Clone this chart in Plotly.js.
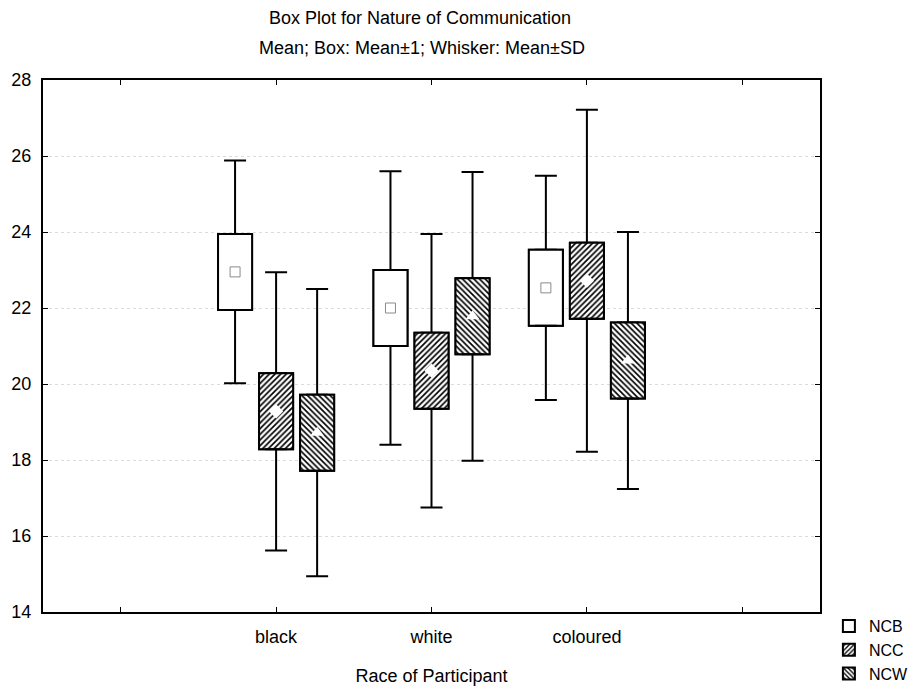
<!DOCTYPE html>
<html>
<head>
<meta charset="utf-8">
<script src="https://cdn.plot.ly/plotly-3.0.1.min.js"></script>
<style>html,body{margin:0;padding:0;background:#fff;}#chart{width:921px;height:686px;}</style>
</head>
<body>
<div id="chart"></div>
<script>
// Data
var categories = ['black', 'white', 'coloured'];
var seriesNames = ['NCB', 'NCC', 'NCW'];
var meanNCB = [22.95, 22.0, 22.53];
var meanNCC = [19.28, 20.35, 22.72];
var meanNCW = [18.72, 21.78, 20.62];
var sdNCB = [2.93, 3.6, 2.95];
var sdNCC = [3.66, 3.6, 4.5];
var sdNCW = [3.78, 3.8, 3.38];
var boxHalf = 1; // Box: Mean ± 1

var means = [meanNCB, meanNCC, meanNCW];
var sds = [sdNCB, sdNCC, sdNCW];

// styling
var offsets = [-0.264, 0, 0.264];
var barWidth = 0.219;
var patterns = [
  {shape: '', fgcolor: '#000', bgcolor: '#fff'},
  {shape: '/', fgcolor: '#000', bgcolor: '#fff', size: 4, solidity: 0.42},
  {shape: '\\', fgcolor: '#000', bgcolor: '#fff', size: 4, solidity: 0.42}
];
var meanMarkers = [
  {symbol: 'square-open', size: 10, color: '#8a8a8a', line: {width: 1, color: '#8a8a8a'}},
  {symbol: 'diamond', size: 11, color: '#ffffff', line: {width: 0, color: '#ffffff'}},
  {symbol: 'triangle-up', size: 12, color: '#ffffff', line: {width: 0, color: '#ffffff'}}
];

var catPos = categories.map(function (c, i) { return i + 1; });
var traces = [];
seriesNames.forEach(function (name, s) {
  var xs = catPos.map(function (p) { return p + offsets[s]; });
  var m = means[s], sd = sds[s];
  var zeros = m.map(function () { return 0; });
  var whisk = sd.map(function (v) { return v - boxHalf; });
  var marker = {color: '#fff', pattern: patterns[s], line: {color: '#000', width: 2}};
  // upper half of box + upper whisker
  traces.push({
    type: 'bar', name: name, legendgroup: name, showlegend: true,
    x: xs, y: m.map(function () { return 2 * boxHalf; }),
    base: m.map(function (v) { return v - boxHalf; }),
    width: barWidth, marker: marker,
    error_y: {type: 'data', symmetric: false, array: whisk, arrayminus: zeros, color: '#000', thickness: 2, width: 11},
    hoverinfo: 'skip'
  });
  // lower whisker (same box, drawn downward)
  traces.push({
    type: 'bar', name: name, legendgroup: name, showlegend: false,
    x: xs, y: m.map(function () { return -2 * boxHalf; }),
    base: m.map(function (v) { return v + boxHalf; }),
    width: barWidth, marker: marker,
    error_y: {type: 'data', symmetric: false, array: zeros, arrayminus: whisk, color: '#000', thickness: 2, width: 11},
    hoverinfo: 'skip'
  });
});
seriesNames.forEach(function (name, s) {
  traces.push({
    type: 'scatter', mode: 'markers', name: name, legendgroup: name, showlegend: false,
    x: catPos.map(function (p) { return p + offsets[s]; }), y: means[s],
    marker: meanMarkers[s], hoverinfo: 'skip'
  });
});

var fontFam = 'Liberation Sans, Arial, sans-serif';
var layout = {
  width: 921, height: 686,
  paper_bgcolor: '#fff', plot_bgcolor: '#fff',
  margin: {l: 43, r: 101, t: 80, b: 74},
  barmode: 'overlay',
  font: {family: fontFam, color: '#000', size: 16},
  title: {text: 'Box Plot for Nature of Communication', font: {size: 18, family: fontFam, color: '#000'},
          xref: 'container', x: 0.456, xanchor: 'center', yref: 'container', y: 1 - 18 / 686, yanchor: 'middle'},
  annotations: [{
    text: 'Mean; Box: Mean±1; Whisker: Mean±SD', xref: 'paper', yref: 'paper',
    x: (422 - 43) / 777, y: 1 + 32 / 532, xanchor: 'center', yanchor: 'middle', showarrow: false,
    font: {size: 18, family: fontFam, color: '#000'}
  }],
  xaxis: {
    range: [-0.5, 4.5], tickvals: [0, 1, 2, 3, 4], ticktext: [''].concat(categories).concat(['']),
    showgrid: false, zeroline: false, showline: true, linecolor: '#000', linewidth: 2, mirror: 'ticks',
    ticks: 'inside', ticklen: 5, tickwidth: 1, tickcolor: '#000', ticklabelstandoff: 7,
    tickfont: {size: 18, family: fontFam, color: '#000'},
    title: {text: 'Race of Participant', font: {size: 18, family: fontFam, color: '#000'}, standoff: 25},
    fixedrange: true
  },
  yaxis: {
    range: [14, 28], dtick: 2, tick0: 14,
    showgrid: true, gridcolor: '#dcdcdc', griddash: 'dot', gridwidth: 1,
    zeroline: false, showline: true, linecolor: '#000', linewidth: 2, mirror: 'ticks',
    ticks: 'inside', ticklen: 5, tickwidth: 1, tickcolor: '#000', ticklabelstandoff: 6,
    tickfont: {size: 18, family: fontFam, color: '#000'},
    fixedrange: true
  },
  legend: {
    xref: 'container', yref: 'container', x: 0.9, y: 1 - 609 / 686, xanchor: 'left', yanchor: 'top',
    font: {size: 16, family: fontFam, color: '#000'}, bgcolor: 'rgba(0,0,0,0)', tracegroupgap: 0,
    itemwidth: 30
  },
  showlegend: true
};

Plotly.newPlot('chart', traces, layout, {displayModeBar: false, staticPlot: true});
</script>
</body>
</html>
